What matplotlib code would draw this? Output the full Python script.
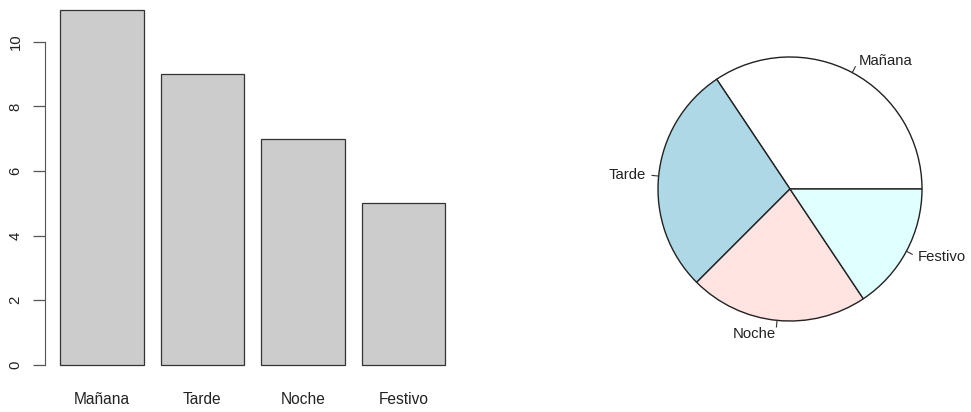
import numpy as np
import matplotlib.pyplot as plt

categories = ["Mañana", "Tarde", "Noche", "Festivo"]
counts = [11, 9, 7, 5]
pie_colors = ["#FFFFFF", "#ADD8E6", "#FFE4E1", "#E0FFFF"]
yticks = [0, 2, 4, 6, 8, 10]

W, H = 971, 412
plt.rcParams['font.family'] = ['Liberation Sans', 'DejaVu Sans']
fs = 10.7

fig = plt.figure(figsize=(W / 100, H / 100), dpi=100)

# --- barplot (R style: width 1, space 0.2) ---
ax = fig.add_axes([44.6 / W, 1 - 379 / H, (460.7 - 44.6) / W, 383.7 / H])
pos = 0.2 + 1.2 * np.arange(len(counts)) + 0.5
ax.bar(pos, counts, width=1.0, color="#CCCCCC", edgecolor="#333333", linewidth=0.9)
ax.set_xlim(0.016, 4.984)
ax.set_ylim(-0.44, 11.44)
for s in ["top", "right", "bottom"]:
    ax.spines[s].set_visible(False)
ax.spines["left"].set_bounds(0, 10)
ax.spines["left"].set_color("#555555")
ax.set_yticks(yticks)
ax.set_yticklabels([str(v) for v in yticks], rotation=90, va="center", fontsize=fs, color="#222222")
ax.tick_params(axis="y", length=9, width=0.9, color="#555555", pad=7)
ax.set_xticks(pos)
ax.set_xticklabels(categories, fontsize=11.2, color="#222222")
ax.tick_params(axis="x", length=0, pad=9)

# --- pie (R style: counterclockwise from 0 deg) ---
r_px = 132
half = 200
cx, cy = 790, 189
ax2 = fig.add_axes([(cx - half) / W, (H - cy - half) / H, 2 * half / W, 2 * half / H])
wedges, texts = ax2.pie(counts, labels=categories, colors=pie_colors, startangle=0,
                        counterclock=True, labeldistance=1.1,
                        wedgeprops=dict(edgecolor="#222222", linewidth=1.0),
                        textprops=dict(fontsize=fs, color="#222222"))
for w in wedges:
    mid = np.deg2rad((w.theta1 + w.theta2) / 2)
    ax2.plot([np.cos(mid), 1.05 * np.cos(mid)], [np.sin(mid), 1.05 * np.sin(mid)],
             color="#333333", linewidth=0.8)
lim = half / r_px
ax2.set_xlim(-lim, lim)
ax2.set_ylim(-lim, lim)
ax2.set_axis_off()

plt.savefig("out.png", dpi=100)
